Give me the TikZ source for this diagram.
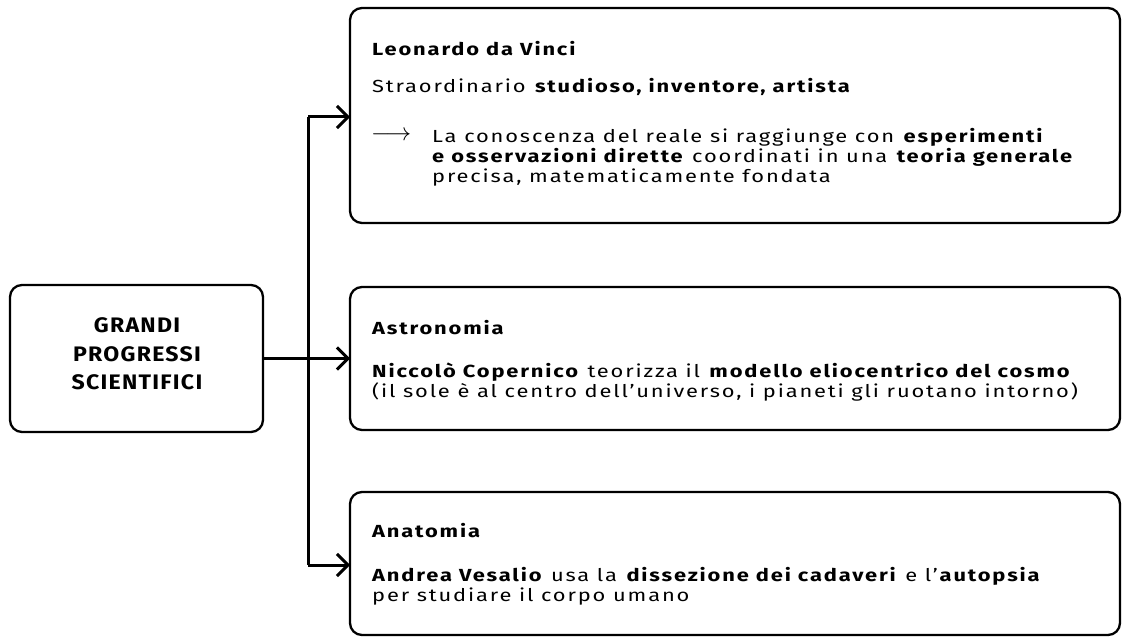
\documentclass[tikz,border=0pt]{standalone}
\usepackage{fontspec}
\setmainfont{Fira Sans}[FakeStretch=1.25,LetterSpace=10.5]
\newfontfamily\gpfont{Fira Sans}[FakeStretch=1.1,LetterSpace=6]
\usetikzlibrary{arrows.meta}
\begin{document}
\begin{tikzpicture}[x=1pt,y=-1pt,
  box/.style={draw,line width=2.3pt,rounded corners=12pt,inner sep=0pt,outer sep=0pt,minimum width=770pt,minimum height=143pt},
  txt/.style={anchor=mid west,inner sep=0pt,font=\fontsize{17.5}{20}\selectfont},
  head/.style={txt,font=\fontsize{17.5}{20}\selectfont\bfseries},
  conn/.style={line width=3pt},
  arr/.style={conn,-{Straight Barb[length=11pt,width=22pt,line width=3pt]}}]
\useasboundingbox (0,0) rectangle (1128,639);
% boxes
\node[box,minimum width=253pt,minimum height=147pt] (gp) at (136.5,358.5) {};
\node[box,minimum height=215pt] (leo) at (735,115.5) {};
\node[box] (astro) at (735,358.5) {};
\node[box] (anat) at (735,563.5) {};
% left box text
\node[align=center,inner sep=0pt,font=\gpfont\fontsize{21}{28.5}\selectfont\bfseries] (gptxt) at (137,354) {GRANDI\\PROGRESSI\\SCIENTIFICI};
% Leonardo
\node[head] (l1) at (372,53) {Leonardo da Vinci};
\node[txt] (l2) at (372,90) {Straordinario \textbf{studioso, inventore, artista}};
\node[txt] (l3a) at (371,138) {\fontsize{24}{24}\selectfont$\longrightarrow$};
\node[txt] (l3) at (432,140) {La conoscenza del reale si raggiunge con \textbf{esperimenti}};
\node[txt] (l4) at (432,160) {\textbf{e osservazioni dirette} coordinati in una \textbf{teoria generale}};
\node[txt] (l5) at (432,180) {precisa, matematicamente fondata};
% Astronomia
\node[head] (a1) at (372,332) {Astronomia};
\node[txt] (a2) at (372,375) {\textbf{Niccolò Copernico} teorizza il \textbf{modello eliocentrico del cosmo}};
\node[txt] (a3) at (372,395) {(il sole è al centro dell’universo, i pianeti gli ruotano intorno)};
% Anatomia
\node[head] (n1) at (372,535) {Anatomia};
\node[txt] (n2) at (372,579) {\textbf{Andrea Vesalio} usa la \textbf{dissezione dei cadaveri} e l’\textbf{autopsia}};
\node[txt] (n3) at (372,599) {per studiare il corpo umano};
% connectors
\coordinate (j1) at (308,117);
\coordinate (j3) at (308,565);
\draw[conn] (j1) -- (j3);
\draw[arr] (gp.east) -- (astro.west);
\draw[arr] (j1) -- (j1 -| leo.west);
\draw[arr] (j3) -- (j3 -| anat.west);
\end{tikzpicture}
\end{document}
